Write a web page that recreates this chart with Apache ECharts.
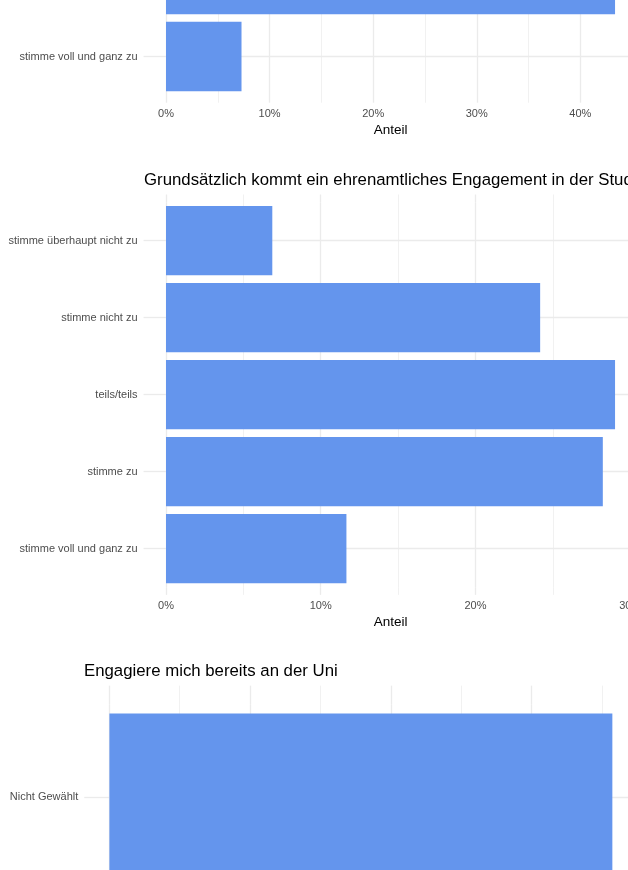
<!DOCTYPE html>
<html>
<head>
<meta charset="utf-8">
<script src="https://cdn.jsdelivr.net/npm/echarts@6/dist/echarts.min.js"></script>
<style>
html,body{margin:0;padding:0;background:#fff;overflow:hidden;}
#c{width:628px;height:870px;}
</style>
</head>
<body>
<div id="c"></div>
<script>
// ---- data ----
const catsA = ['stimme zu', 'stimme voll und ganz zu'];
const valsA = [43.35, 7.29];

const titleB = 'Grundsätzlich kommt ein ehrenamtliches Engagement in der Studienzeit in Frage';
const catsB = ['stimme überhaupt nicht zu', 'stimme nicht zu', 'teils/teils', 'stimme zu', 'stimme voll und ganz zu'];
const valsB = [6.87, 24.18, 29.02, 28.23, 11.66];

const titleC = 'Engagiere mich bereits an der Uni';
const catsC = ['Nicht Gewählt'];
const valsC = [71.5];

const tickStepA = 10, tickStepB = 10, tickStepC = 20;
const axisTitle = 'Anteil';

// ---- style ----
const FONT = 'Liberation Sans, Arial, sans-serif';
const GRID = '#EBEBEB';
const BAR = '#6495ED';
const MAJ = 1.3, MIN = 0.7;
const panelRight = 637.5;

const chart = echarts.init(document.getElementById('c'), null, {renderer: 'canvas'});

const grids = [], xAxes = [], yAxes = [], series = [];

function panel(opts) {
  const gi = grids.length;
  const n = opts.cats.length;
  const height = opts.band * n;
  const width = panelRight - opts.left;
  const maxV = Math.max(...opts.vals) * 1.05;
  const xExt = 0.05 / 1.05 * width; // ggplot 5% expansion on the left, in px
  const yExt = 0.1 * opts.band;     // ggplot 0.6 vs 0.5 band expansion
  grids.push({left: opts.left, top: opts.top, width: width, height: height,
              containLabel: false, outerBoundsMode: 'none'});
  const common = {
    type: 'value', gridIndex: gi, min: 0, max: maxV, interval: opts.step,
    axisLine: {show: false},
    minorTick: {show: true, splitNumber: 2, length: yExt, lineStyle: {color: GRID, width: MIN}},
    axisTick: {show: true, length: yExt, lineStyle: {color: GRID, width: MAJ}}
  };
  xAxes.push(Object.assign({}, common, {
    position: 'bottom',
    splitLine: {show: true, lineStyle: {color: GRID, width: MAJ}},
    minorSplitLine: {show: true, lineStyle: {color: GRID, width: MIN}},
    name: axisTitle, nameLocation: 'middle', nameGap: 28,
    nameTextStyle: {fontFamily: FONT, fontSize: 13.5, color: '#000', padding: [0, xExt, 0, 0]},
    axisLabel: {
      margin: 13, fontFamily: FONT, fontSize: 11, color: '#4D4D4D',
      showMaxLabel: false, hideOverlap: false,
      formatter: v => (Math.abs(v / opts.step - Math.round(v / opts.step)) < 1e-6 ? Math.round(v) + '%' : '')
    }
  }));
  xAxes.push(Object.assign({}, common, {
    position: 'top', axisLabel: {show: false},
    splitLine: {show: false}, minorSplitLine: {show: false}
  }));
  const yi = yAxes.length;
  yAxes.push({
    type: 'category', gridIndex: gi, data: opts.cats, inverse: true, position: 'left',
    axisLine: {show: false},
    axisTick: {show: true, alignWithLabel: true, length: xExt, lineStyle: {color: GRID, width: MAJ}},
    axisLabel: {margin: xExt + 6, fontFamily: FONT, fontSize: 11, color: '#4D4D4D'},
    splitLine: {show: false}
  });
  yAxes.push({
    type: 'category', gridIndex: gi, data: opts.cats, inverse: true, position: 'left',
    axisLine: {show: false},
    axisTick: {show: true, inside: true, alignWithLabel: true, length: width, lineStyle: {color: GRID, width: MAJ}},
    axisLabel: {show: false},
    splitLine: {show: false}
  });
  series.push({
    type: 'bar', xAxisIndex: gi * 2, yAxisIndex: yi,
    data: opts.vals, barCategoryGap: '10%',
    itemStyle: {color: BAR}, z: 3
  });
}

panel({cats: catsA, vals: valsA, left: 166, top: -59, band: 77, step: tickStepA});
panel({cats: catsB, vals: valsB, left: 166, top: 202.2, band: 77, step: tickStepB});
panel({cats: catsC, vals: valsC, left: 109.4, top: 704.2, band: 185.6, step: tickStepC});

chart.setOption({
  animation: false,
  backgroundColor: '#fff',
  textStyle: {fontFamily: FONT},
  title: [
    {text: titleB, left: 144, top: 171.5, padding: 0,
     textStyle: {fontFamily: FONT, fontSize: 16.8, fontWeight: 'normal', color: '#000'}},
    {text: titleC, left: 84, top: 662.5, padding: 0,
     textStyle: {fontFamily: FONT, fontSize: 16.8, fontWeight: 'normal', color: '#000'}}
  ],
  grid: grids,
  xAxis: xAxes,
  yAxis: yAxes,
  series: series
});
</script>
</body>
</html>
